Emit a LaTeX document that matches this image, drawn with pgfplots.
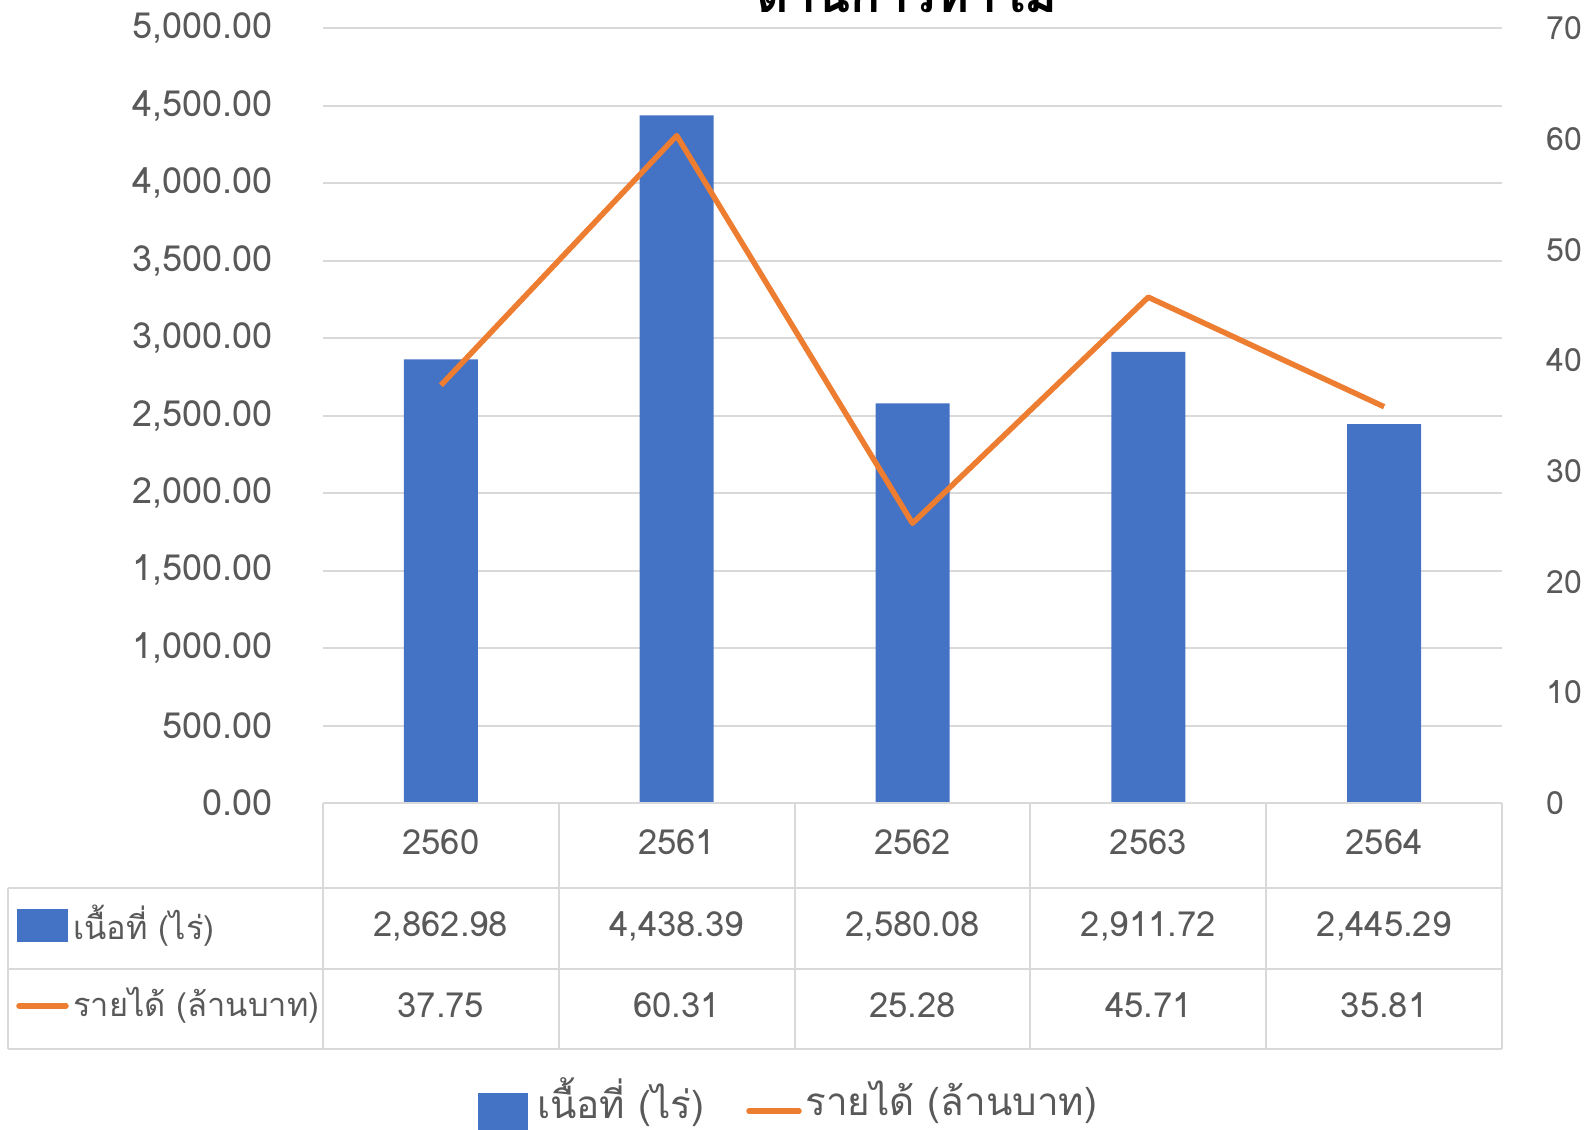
\documentclass[border=0pt]{standalone}
\usepackage{fontspec}
\setmainfont[Script=Thai]{Loma}
\usepackage{pgfplots}
\pgfplotsset{compat=1.18}
\definecolor{barblue}{HTML}{4472C4}
\definecolor{lineorange}{HTML}{ED7D31}
\definecolor{gridgray}{HTML}{D9D9D9}
\definecolor{txtgray}{HTML}{595959}
\begin{document}
\begin{tikzpicture}
\useasboundingbox (-161.5pt,-163pt) rectangle (632.5pt,401.5pt);
\pgfplotsset{
  every axis/.append style={
    scale only axis, width=589.5pt, height=387.3pt,
    at={(0,0)}, anchor=south west,
    xmin=-0.5, xmax=4.5,
    major tick length=0pt,
    axis line style={draw=none},
    tick label style={font=\fontsize{18}{20}\selectfont, text=txtgray},
    /pgf/number format/assume math mode=true,
  }
}
\begin{axis}[
  axis x line=bottom, axis y line=left,
  ymin=0, ymax=5000, ytick={0,500,...,5000},
  ymajorgrids, grid style={gridgray, line width=1pt},
  yticklabel style={anchor=east, inner sep=0pt, xshift=-24.8pt,
    /pgf/number format/.cd, fixed, fixed zerofill, precision=2, 1000 sep={,}},
  scaled y ticks=false,
  xtick={0,1,2,3,4}, xticklabels={2560,2561,2562,2563,2564},
  xticklabel style={anchor=center, inner sep=0pt, yshift=-19.75pt, font=\fontsize{17.3}{19}\selectfont},
]
\addplot[ybar, bar width=37pt, bar shift=0pt, fill=barblue, draw=none]
  coordinates {(0,2862.98) (1,4438.39) (2,2580.08) (3,2911.72) (4,2445.29)};
\end{axis}
\begin{axis}[
  axis x line=none, axis y line*=right,
  ymin=0, ymax=70, ytick={0,10,...,70},
  yticklabel style={anchor=west, inner sep=0pt, xshift=22pt, font=\fontsize{16}{18}\selectfont},
  xtick=\empty,
]
\addplot[lineorange, line width=2.75pt, line join=round, mark=none]
  coordinates {(0,37.75) (1,60.31) (2,25.28) (3,45.71) (4,35.81)};
\end{axis}
% title (cut by page edge as in reference)
\node[anchor=base, font=\fontsize{25}{27}\selectfont\bfseries] at (292pt,395pt) {ด้านการทำไม้};
% data table
\begin{scope}[gridgray, line width=1pt]
\draw (0,0) -- (589.5pt,0);
\draw (-157.5pt,-42.5pt) -- (589.5pt,-42.5pt);
\draw (-157.5pt,-83pt) -- (589.5pt,-83pt);
\draw (-157.5pt,-123pt) -- (589.5pt,-123pt);
\draw (-157.5pt,-42.5pt) -- (-157.5pt,-123pt);
\foreach \x in {0,117.9,235.8,353.7,471.6,589.5} \draw (\x pt,0) -- (\x pt,-123pt);
\end{scope}
\begin{scope}[text=txtgray]
\fill[barblue] (-152.9pt,-53.2pt) rectangle (-127.5pt,-69.5pt);
\draw[lineorange, line width=2.75pt, line cap=round] (-152pt,-101.4pt) -- (-128.5pt,-101.4pt);
\node[anchor=west, inner sep=0pt, font=\fontsize{16.3}{18}\selectfont] at (-125pt,-61.5pt) {เนื้อที่ (ไร่)};
\node[anchor=west, inner sep=0pt, font=\fontsize{16.3}{18}\selectfont] at (-125pt,-101pt) {รายได้ (ล้านบาท)};
\begin{scope}[font=\fontsize{17.3}{19}\selectfont]
\node at (58.95pt,-61.75pt) {2,862.98};
\node at (176.85pt,-61.75pt) {4,438.39};
\node at (294.75pt,-61.75pt) {2,580.08};
\node at (412.65pt,-61.75pt) {2,911.72};
\node at (530.55pt,-61.75pt) {2,445.29};
\node at (58.95pt,-101pt) {37.75};
\node at (176.85pt,-101pt) {60.31};
\node at (294.75pt,-101pt) {25.28};
\node at (412.65pt,-101pt) {45.71};
\node at (530.55pt,-101pt) {35.81};
\end{scope}
\end{scope}
% legend
\begin{scope}[font=\fontsize{19.3}{21}\selectfont, text=txtgray]
\fill[barblue] (77.5pt,-144.9pt) rectangle (102.5pt,-165pt);
\node[anchor=west, inner sep=0pt] at (106.9pt,-149.5pt) {เนื้อที่ (ไร่)};
\draw[lineorange, line width=2.75pt, line cap=round] (213pt,-154pt) -- (238pt,-154pt);
\node[anchor=west, inner sep=0pt] at (241pt,-149.5pt) {รายได้ (ล้านบาท)};
\end{scope}
\end{tikzpicture}
\end{document}
